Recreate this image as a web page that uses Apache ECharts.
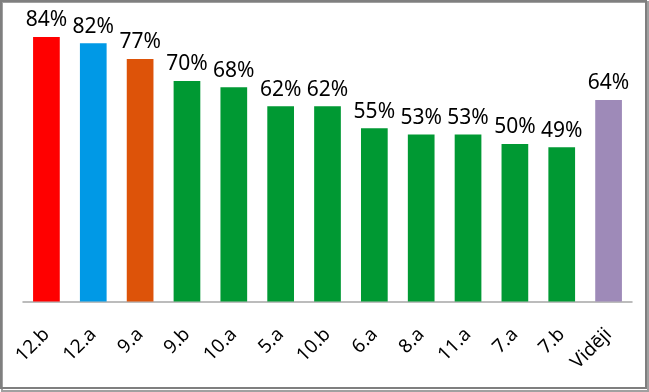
<!DOCTYPE html>
<html>
<head>
<meta charset="utf-8">
<style>
html,body{margin:0;padding:0;background:#fff;}
#c{width:649px;height:392px;}
</style>
<script src="https://cdn.jsdelivr.net/npm/echarts@6/dist/echarts.min.js"></script>
</head>
<body>
<div id="c"></div>
<script>
const categories = ['12.b','12.a','9.a','9.b','10.a','5.a','10.b','6.a','8.a','11.a','7.a','7.b','Vidēji'];
const values = [84, 82, 77, 70, 68, 62, 62, 55, 53, 53, 50, 49, 64];
const barColors = ['#FF0000','#0099E6','#DD5309','#009933','#009933','#009933','#009933','#009933','#009933','#009933','#009933','#009933','#9E8AB8'];

const chart = echarts.init(document.getElementById('c'), null, {renderer:'canvas'});
const font = '"Noto Sans", sans-serif';
chart.setOption({
  animation:false,
  graphic:[
    {type:'rect', shape:{x:2,y:2,width:646,height:389}, style:{fill:'none', stroke:'#a0a0a0', lineWidth:2}, silent:true, z:-1},
    {type:'rect', shape:{x:1,y:1,width:645,height:387}, style:{fill:'none', stroke:'#7f7f7f', lineWidth:2}, silent:true}
  ],
  grid:{left:23, right:17, top:18, bottom:90.5, containLabel:false},
  xAxis:{
    type:'category', data:categories,
    axisLine:{show:true, lineStyle:{color:'#a6a6a6', width:1.5}},
    axisTick:{show:false},
    axisLabel:{rotate:45, margin:30, fontSize:19, color:'#000', fontFamily:font, interval:0}
  },
  yAxis:{type:'value', min:0, max:90, show:false, splitLine:{show:false}},
  series:[{
    type:'bar',
    data:values.map((v,i)=>({value:v, itemStyle:{color:barColors[i]}})),
    barCategoryGap:'43%',
    label:{show:true, position:'top', distance:6, formatter:'{c}%', fontSize:21, color:'#000', fontFamily:font}
  }]
});
</script>
</body>
</html>
